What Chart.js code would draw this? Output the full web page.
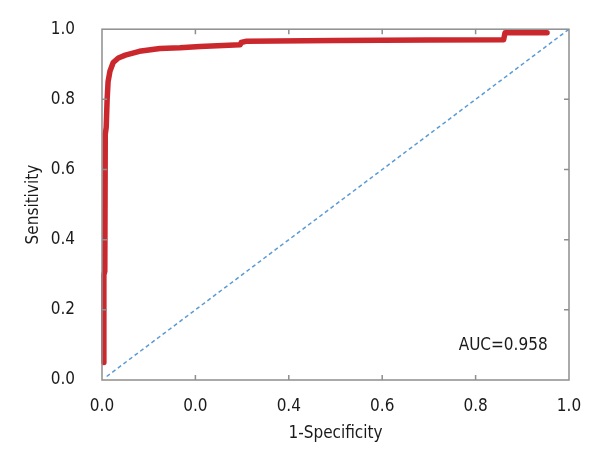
<!DOCTYPE html>
<html lang="en">

<head>
    <meta charset="UTF-8">
    <title>ROC curve</title>
    <script src="https://cdn.jsdelivr.net/npm/chart.js"></script>
    <style>
        body { margin: 0; background: #fff; }
        #wrap { width: 600px; height: 460px; }
    </style>
</head>

<body>
    <div id="wrap"><canvas id="chart" width="600" height="460"></canvas></div>
    <script>
        // values
        const fpr = [0.004, 0.004, 0.006, 0.007, 0.009, 0.011, 0.013, 0.017, 0.024, 0.035, 0.05, 0.08, 0.124, 0.167, 0.21, 0.296, 0.298, 0.31, 0.5, 0.7, 0.86, 0.863, 0.953];
        const tpr = [0.05, 0.3, 0.31, 0.7, 0.72, 0.8, 0.85, 0.88, 0.905, 0.918, 0.926, 0.937, 0.945, 0.947, 0.951, 0.956, 0.962, 0.966, 0.968, 0.969, 0.97, 0.99, 0.99];
        const refX = [0.01, 1.0];
        const refY = [0.01, 1.0];
        const tickValues = [0, 0.2, 0.4, 0.6, 0.8, 1.0];
        const xTickLabels = ['0.0', '0.0', '0.4', '0.6', '0.8', '1.0'];
        const yTickLabels = ['0.0', '0.2', '0.4', '0.6', '0.8', '1.0'];
        const aucText = 'AUC=0.958';

        const FONT = "'DejaVu Sans Condensed', 'Liberation Sans', sans-serif";

        const frame = {
            id: 'frame',
            afterDraw(chart) {
                const { ctx, chartArea: a, scales: { x, y } } = chart;
                ctx.save();
                ctx.strokeStyle = '#8e8e8e';
                ctx.lineWidth = 1.5;
                ctx.strokeRect(a.left, a.top, a.right - a.left, a.bottom - a.top);
                const len = 5;
                ctx.beginPath();
                tickValues.slice(1, -1).forEach(v => {
                    const px = x.getPixelForValue(v);
                    ctx.moveTo(px, a.bottom); ctx.lineTo(px, a.bottom - len);
                    ctx.moveTo(px, a.top); ctx.lineTo(px, a.top + len);
                    const py = y.getPixelForValue(v);
                    ctx.moveTo(a.left, py); ctx.lineTo(a.left + len, py);
                    ctx.moveTo(a.right, py); ctx.lineTo(a.right - len, py);
                });
                ctx.stroke();
                ctx.fillStyle = '#1a1a1a';
                ctx.font = '17px ' + FONT;
                ctx.textAlign = 'center';
                ctx.textBaseline = 'middle';
                ctx.fillText(aucText, x.getPixelForValue(0.859), y.getPixelForValue(0.098));
                ctx.restore();
            }
        };

        new Chart(document.getElementById('chart'), {
            type: 'scatter',
            data: {
                datasets: [
                    {
                        data: refX.map((v, i) => ({ x: v, y: refY[i] })),
                        showLine: true,
                        borderColor: '#5b9bd5',
                        borderWidth: 1.5,
                        borderDash: [4, 3],
                        pointRadius: 0
                    },
                    {
                        data: fpr.map((v, i) => ({ x: v, y: tpr[i] })),
                        showLine: true,
                        borderColor: '#cb282e',
                        borderWidth: 5.5,
                        borderJoinStyle: 'round',
                        borderCapStyle: 'round',
                        pointRadius: 0,
                        clip: false
                    }
                ]
            },
            options: {
                responsive: false,
                animation: false,
                events: [],
                layout: { padding: { top: 23, right: 31, bottom: 0, left: 0 } },
                plugins: { legend: { display: false }, tooltip: { enabled: false } },
                scales: {
                    x: {
                        type: 'linear', min: 0, max: 1,
                        afterBuildTicks: s => { s.ticks = tickValues.map(v => ({ value: v })); },
                        afterFit: s => { s.height = 80; },
                        grid: { display: false },
                        border: { display: false },
                        ticks: {
                            padding: 8, color: '#1a1a1a', font: { family: FONT, size: 17 },
                            maxRotation: 0,
                            callback: (v, i) => xTickLabels[i]
                        },
                        title: {
                            display: true, text: '1-Specificity', color: '#1a1a1a',
                            font: { family: FONT, size: 17 }, padding: { top: 0, bottom: 16 }
                        }
                    },
                    y: {
                        type: 'linear', min: 0, max: 1,
                        afterBuildTicks: s => { s.ticks = tickValues.map(v => ({ value: v })); },
                        afterFit: s => { s.width = 102; },
                        grid: { display: false },
                        border: { display: false },
                        ticks: {
                            padding: 19, color: '#1a1a1a', font: { family: FONT, size: 17 },
                            callback: (v, i) => yTickLabels[i]
                        },
                        title: {
                            display: true, text: 'Sensitivity', color: '#1a1a1a',
                            font: { family: FONT, size: 17 }, padding: { top: 23, bottom: 0 }
                        }
                    }
                }
            },
            plugins: [frame]
        });
    </script>
</body>

</html>
